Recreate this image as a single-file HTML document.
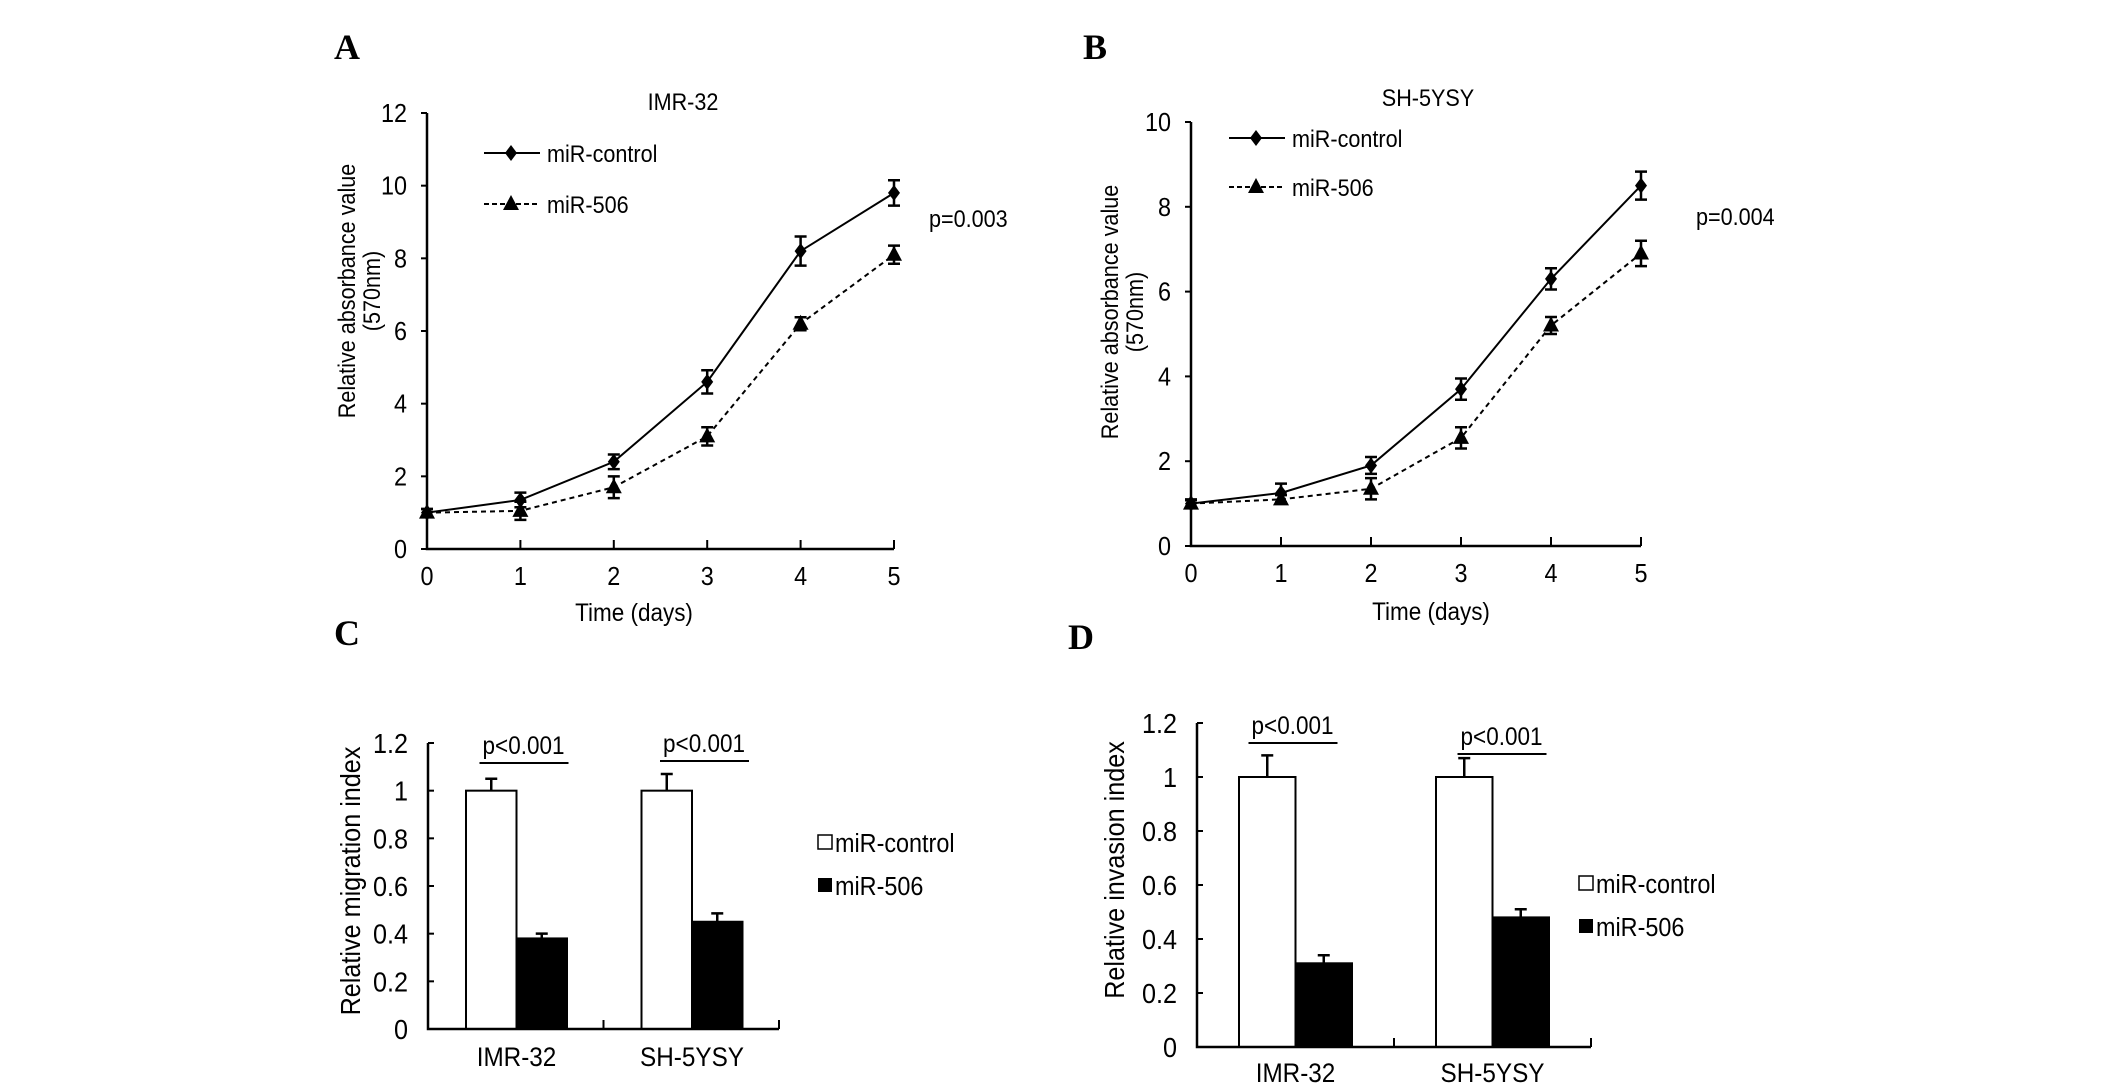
<!DOCTYPE html>
<html><head><meta charset="utf-8"><style>
html,body{margin:0;padding:0;background:#fff;overflow:hidden;}
svg{display:block;font-family:"Liberation Sans",Arial,sans-serif;}
</style></head><body>
<svg id="fig" width="2126" height="1086" viewBox="0 0 2126 1086" xmlns="http://www.w3.org/2000/svg"></svg>
<script>
// ---- Panel A data (IMR-32 growth) ----
const daysA = [0,1,2,3,4,5];
const aCtrl = [1,1.35,2.4,4.6,8.2,9.8];
const aCtrlErr = [0.1,0.2,0.2,0.32,0.4,0.35];
const a506 = [1,1.05,1.7,3.1,6.2,8.1];
const a506Err = [0.1,0.25,0.3,0.25,0.18,0.25];
const aYTicks = [0,2,4,6,8,10,12];
// ---- Panel B data (SH-5YSY growth) ----
const daysB = [0,1,2,3,4,5];
const bCtrl = [1,1.25,1.9,3.7,6.3,8.5];
const bCtrlErr = [0.1,0.22,0.2,0.25,0.25,0.33];
const b506 = [1,1.1,1.35,2.55,5.2,6.9];
const b506Err = [0.08,0.1,0.25,0.25,0.2,0.3];
const bYTicks = [0,2,4,6,8,10];
// ---- Panel C data (migration) ----
const cellLines = ["IMR-32","SH-5YSY"];
const cCtrl = [1,1];
const cCtrlErr = [0.05,0.07];
const c506 = [0.38,0.45];
const c506Err = [0.02,0.035];
// ---- Panel D data (invasion) ----
const dCtrl = [1,1];
const dCtrlErr = [0.08,0.07];
const d506 = [0.31,0.48];
const d506Err = [0.03,0.03];
const barYTicks = [0,0.2,0.4,0.6,0.8,1,1.2];
const barYTickLabels = ["0","0.2","0.4","0.6","0.8","1","1.2"];

const NS="http://www.w3.org/2000/svg";
const svg=document.getElementById('fig');
function el(tag,attrs,parent){const e=document.createElementNS(NS,tag);for(const k in attrs)e.setAttribute(k,attrs[k]);(parent||svg).appendChild(e);return e;}
function txt(s,x,y,size,anchor,parent,name,rot,sx){
  const t=el('text',{x:0,y:0,'font-size':size,'text-anchor':anchor||'start',fill:'#000'},parent);
  t.setAttribute('transform',`translate(${x},${y})`+(rot?` rotate(${rot})`:'')+` scale(${sx||0.9},1)`);
  t.textContent=s;
  
  
  return t;
}
function letter(s,x,y){
  const t=el('text',{x:x,y:y,'font-size':36,'font-weight':'bold','font-family':'"Liberation Serif",serif'});
  t.textContent=s;
  
  
}
function drawMarker(type,x,y,parent){
  if(type==='d') return el('path',{d:`M${x},${y-8}L${x+6},${y}L${x},${y+8}L${x-6},${y}Z`,fill:'#000'},parent);
  return el('path',{d:`M${x},${y-9}L${x+8},${y+6}L${x-8},${y+6}Z`,fill:'#000'},parent);
}

function linePanel(cfg){
  const g=el('g',{});
  
  
  const X=d=>cfg.x0+(cfg.x5-cfg.x0)*d/5;
  const Y=v=>cfg.y0-(cfg.y0-cfg.yTop)*v/cfg.ymax;
  const ax=el('path',{d:`M${cfg.x0},${Y(cfg.ymax)}V${cfg.y0}H${cfg.x5}`,stroke:'#000','stroke-width':2.5,fill:'none'},g);
  
  
  cfg.yticks.forEach(v=>{
    const tk=el('line',{x1:cfg.x0-6,x2:cfg.x0,y1:Y(v),y2:Y(v),stroke:'#000','stroke-width':2},g);
    
    
    txt(String(v),cfg.x0-20,Y(v)+9,26,'end',g,'y-tick-label');
  });
  cfg.days.forEach(d=>{
    const tk=el('line',{x1:X(d),x2:X(d),y1:cfg.y0,y2:cfg.y0-9,stroke:'#000','stroke-width':2},g);
    
    
    txt(String(d),X(d),cfg.y0+36,26,'middle',g,'x-tick-label');
  });
  function series(vals,errs,dash,marker,name){
    const sg=el('g',{},g);
    
    
    const p=el('polyline',{points:cfg.days.map((d,i)=>X(d)+','+Y(vals[i])).join(' '),fill:'none',stroke:'#000','stroke-width':2,'stroke-dasharray':dash||'none'},sg);
    
    
    cfg.days.forEach((d,i)=>{
      const x=X(d),y1=Y(vals[i]+errs[i]),y2=Y(vals[i]-errs[i]);
      const e=el('path',{d:`M${x},${y1}V${y2}M${x-6},${y1}H${x+6}M${x-6},${y2}H${x+6}`,stroke:'#000','stroke-width':2.5,fill:'none'},sg);
      
      
      const m=drawMarker(marker,x,Y(vals[i]),sg);
      
      
    });
  }
  series(cfg.ctrl,cfg.ctrlErr,null,'d','miR-control-series');
  series(cfg.m506,cfg.m506Err,'5,4','t','miR-506-series');
  const lg=el('g',{},g);
  
  
  const l1=el('line',{x1:cfg.lx,x2:cfg.lx+56,y1:cfg.ly1,y2:cfg.ly1,stroke:'#000','stroke-width':2},lg);
  
  
  drawMarker('d',cfg.lx+27,cfg.ly1,lg);
  txt('miR-control',cfg.lx+63,cfg.ly1+9,24,'start',lg,'legend-entry-control');
  const l2=el('line',{x1:cfg.lx,x2:cfg.lx+56,y1:cfg.ly2,y2:cfg.ly2,stroke:'#000','stroke-width':2,'stroke-dasharray':'5,3'},lg);
  
  
  drawMarker('t',cfg.lx+27,cfg.ly2,lg);
  txt('miR-506',cfg.lx+63,cfg.ly2+9,24,'start',lg,'legend-entry-506');
  txt(cfg.title,cfg.titleX,cfg.titleY,24,'middle',g,'chart-title');
  txt(cfg.p,cfg.px,cfg.py,24,'start',g,'p-value');
  txt('Time (days)',cfg.xtX,cfg.xtY,25,'middle',g,'x-axis-title');
  txt('Relative  absorbance value',cfg.ytX,cfg.ytY,24,'middle',g,'y-axis-title',-90);
  txt('(570nm)',cfg.ytX2,cfg.ytY,24,'middle',g,'y-axis-title-unit',-90);
}

function barPanel(cfg){
  const g=el('g',{});
  
  
  const Y=v=>cfg.y0-(cfg.y0-cfg.yTop)*v/1.2;
  const groupW=(cfg.xEnd-cfg.x0)/cellLines.length;
  cellLines.forEach((c,i)=>{
    const gx=cfg.x0+groupW*i+cfg.off;
    const b1=el('rect',{x:gx,y:Y(cfg.ctrl[i]),width:cfg.bw,height:cfg.y0-Y(cfg.ctrl[i]),fill:'#fff',stroke:'#000','stroke-width':2},g);
    
    
    const b2=el('rect',{x:gx+cfg.bw,y:Y(cfg.m506[i]),width:cfg.bw,height:cfg.y0-Y(cfg.m506[i]),fill:'#000',stroke:'#000','stroke-width':2},g);
    
    
    [[cfg.ctrl[i],cfg.ctrlErr[i],gx+cfg.bw/2],[cfg.m506[i],cfg.m506Err[i],gx+cfg.bw*1.5]].forEach(([v,e,x])=>{
      const eb=el('path',{d:`M${x},${Y(v)}V${Y(v+e)}M${x-6},${Y(v+e)}H${x+6}`,stroke:'#000','stroke-width':2.5,fill:'none'},g);
      
      
    });
    txt(c,gx+cfg.bw,Math.min(cfg.y0+37,1082),27,'middle',g,'x-tick-label');
    const sx=gx+cfg.bw+cfg.sigOff[i];
    const sl=el('line',{x1:sx-44,x2:sx+45,y1:cfg.sigY[i],y2:cfg.sigY[i],stroke:'#000','stroke-width':2},g);
    
    
    txt('p<0.001',sx,cfg.sigY[i]-9,25,'middle',g,'significance-label');
  });
  const ax=el('path',{d:`M${cfg.x0},${cfg.yTop}V${cfg.y0}H${cfg.xEnd}`,stroke:'#000','stroke-width':2.5,fill:'none'},g);
  
  
  [1,2].forEach(k=>{
    const tk=el('line',{x1:cfg.x0+groupW*k,x2:cfg.x0+groupW*k,y1:cfg.y0,y2:cfg.y0-9,stroke:'#000','stroke-width':2},g);
    
    
  });
  barYTicks.forEach((v,i)=>{
    const tk=el('line',{x1:cfg.x0,x2:cfg.x0+6,y1:Y(v),y2:Y(v),stroke:'#000','stroke-width':2},g);
    
    
    txt(barYTickLabels[i],cfg.x0-20,Y(v)+10,28,'end',g,'y-tick-label');
  });
  txt(cfg.ytitle,cfg.ytX,cfg.ytY,28,'middle',g,'y-axis-title',-90);
  const lg=el('g',{},g);
  
  
  const s1=el('rect',{x:cfg.lx,y:cfg.ly1-8,width:14,height:14,fill:'#fff',stroke:'#000','stroke-width':1.5},lg);
  
  
  txt('miR-control',cfg.lx+17,cfg.ly1+9,26,'start',lg,'legend-entry-control');
  const s2=el('rect',{x:cfg.lx,y:cfg.ly2-8,width:14,height:14,fill:'#000'},lg);
  
  
  txt('miR-506',cfg.lx+17,cfg.ly2+9,26,'start',lg,'legend-entry-506');
}

letter('A',334,59); letter('B',1083,59); letter('C',334,645); letter('D',1068,649);

linePanel({name:'panel-a-imr32-growth',x0:427,x5:894,y0:549,yTop:113,ymax:12,yticks:aYTicks,days:daysA,
  ctrl:aCtrl,ctrlErr:aCtrlErr,m506:a506,m506Err:a506Err,lx:484,ly1:153,ly2:204,title:'IMR-32',titleX:683,titleY:110,
  p:'p=0.003',px:929,py:227,xtX:634,xtY:621,ytX:355,ytX2:380,ytY:291});
linePanel({name:'panel-b-sh5ysy-growth',x0:1191,x5:1641,y0:546,yTop:122,ymax:10,yticks:bYTicks,days:daysB,
  ctrl:bCtrl,ctrlErr:bCtrlErr,m506:b506,m506Err:b506Err,lx:1229,ly1:138,ly2:187,title:'SH-5YSY',titleX:1428,titleY:106,
  p:'p=0.004',px:1696,py:225,xtX:1431,xtY:620,ytX:1118,ytX2:1143,ytY:312});
barPanel({name:'panel-c-migration',x0:428,xEnd:779,y0:1029,yTop:743,bw:50.5,off:38,ctrl:cCtrl,ctrlErr:cCtrlErr,m506:c506,m506Err:c506Err,
  sigY:[763,761],sigOff:[7,12],ytitle:'Relative migration index',ytX:360,ytY:881,lx:818,ly1:843,ly2:886});
barPanel({name:'panel-d-invasion',x0:1197,xEnd:1591,y0:1047,yTop:723,bw:56.5,off:42,ctrl:dCtrl,ctrlErr:dCtrlErr,m506:d506,m506Err:d506Err,
  sigY:[743,754],sigOff:[-3,9],ytitle:'Relative invasion index',ytX:1124,ytY:870,lx:1579,ly1:884,ly2:927});
</script>
</body></html>
